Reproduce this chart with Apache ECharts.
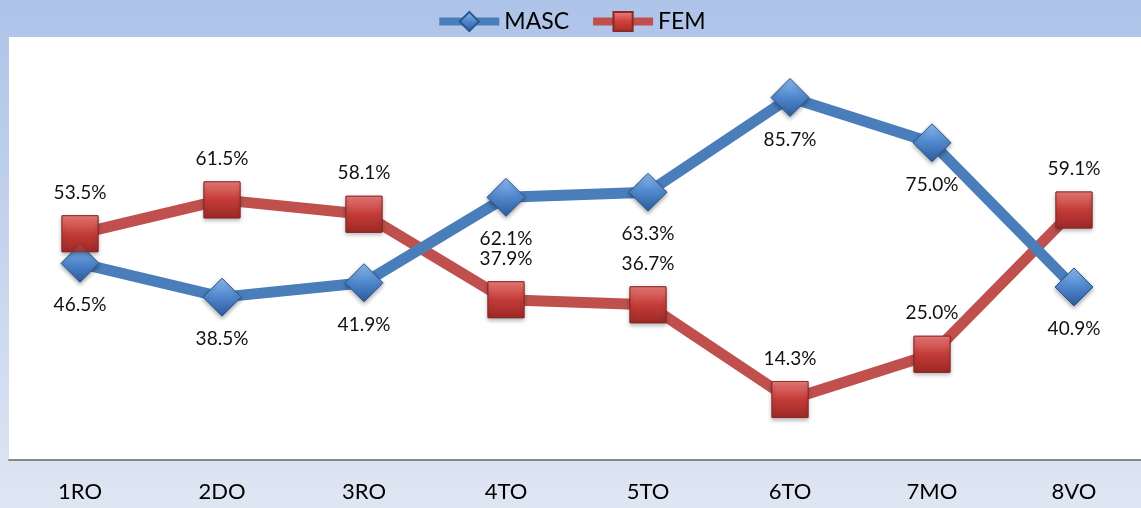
<!DOCTYPE html>
<html>
<head>
<meta charset="utf-8">
<script src="https://cdn.jsdelivr.net/npm/echarts@6/dist/echarts.min.js"></script>
<style>
html,body{margin:0;padding:0;}
#chart{width:1141px;height:508px;}
</style>
</head>
<body>
<div id="chart"></div>
<script>
var categories = ['1RO','2DO','3RO','4TO','5TO','6TO','7MO','8VO'];
var masc = [46.5, 38.5, 41.9, 62.1, 63.3, 85.7, 75.0, 40.9];
var fem = [53.5, 61.5, 58.1, 37.9, 36.7, 14.3, 25.0, 59.1];

var blueGrad = new echarts.graphic.LinearGradient(0,0,0,1,[
  {offset:0,color:'#8dbcf0'},{offset:0.5,color:'#4f86cc'},{offset:1,color:'#2d5c9a'}]);
var redGrad = new echarts.graphic.LinearGradient(0,0,0,1,[
  {offset:0,color:'#f2807c'},{offset:0.5,color:'#cf3f3b'},{offset:1,color:'#a52b28'}]);

var chart = echarts.init(document.getElementById('chart'));
function pct(p){return p.value.toFixed(1)+'%';}
chart.setOption({
  backgroundColor: new echarts.graphic.LinearGradient(0,0,0,1,[
    {offset:0,color:'#adc3e8'},{offset:1,color:'#dfe6f3'}]),
  animation:false,
  legend:{
    data:['MASC','FEM'], top:5, left:'center',
    itemWidth:60, itemHeight:24, itemGap:20,
    lineStyle:{width:8},
    textStyle:{fontFamily:'Lato', fontSize:23, color:'#000'}
  },
  grid:{left:9, width:1136, top:37, bottom:48, outerBoundsMode:'none', show:true, backgroundColor:'#ffffff', borderWidth:0},
  xAxis:{
    type:'category', data:categories, boundaryGap:true,
    axisLine:{lineStyle:{color:'#888', width:2}},
    axisTick:{show:false},
    axisLabel:{fontFamily:'Lato', fontSize:22, color:'#000', margin:21}
  },
  yAxis:{type:'value', min:0, max:100, show:false, splitLine:{show:false}},
  series:[
    {
      name:'FEM', type:'line', data:fem, z:2,
      symbol:'rect', symbolSize:36,
      lineStyle:{color:'#c0504d', width:11},
      itemStyle:{color:redGrad, borderColor:'#8a2a28', borderWidth:1},
      label:{show:true, position:'top', distance:13, formatter:pct, fontFamily:'Lato', fontSize:19, color:'#111'}
    },
    {
      name:'MASC', type:'line', data:masc, z:3,
      symbol:'diamond', symbolSize:38,
      lineStyle:{color:'#4a7ebb', width:11},
      itemStyle:{color:blueGrad, borderColor:'#2a568f', borderWidth:1, shadowBlur:4, shadowColor:'rgba(0,0,0,0.35)', shadowOffsetY:2},
      label:{show:true, position:'bottom', distance:13, formatter:pct, fontFamily:'Lato', fontSize:19, color:'#111'}
    },
    {
      name:'FEM markers', type:'scatter', data:fem, z:4,
      symbol:'rect', symbolSize:36,
      itemStyle:{color:redGrad, borderColor:'#8a2a28', borderWidth:1, shadowBlur:4, shadowColor:'rgba(0,0,0,0.35)', shadowOffsetY:2},
      silent:true
    }
  ]
});
</script>
</body>
</html>
